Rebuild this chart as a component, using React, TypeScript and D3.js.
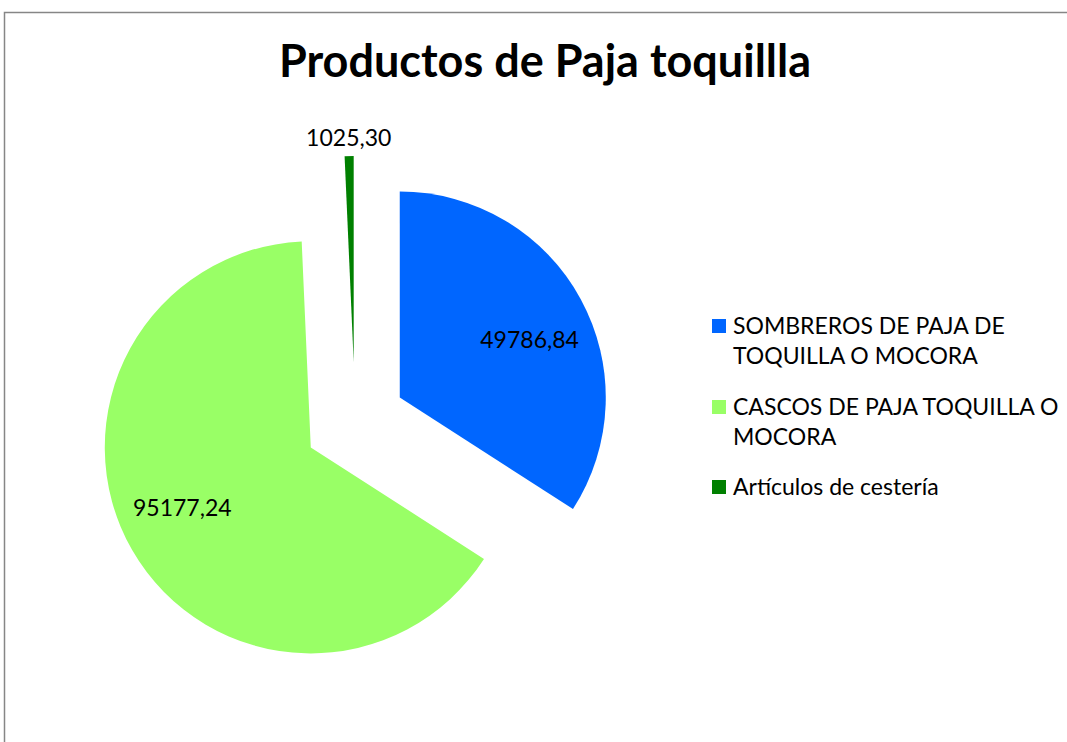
import React, { useMemo } from "react";
import * as d3 from "d3";

// datos del gráfico
const categories = [
  "SOMBREROS DE PAJA DE TOQUILLA O MOCORA",
  "CASCOS DE PAJA TOQUILLA O MOCORA",
  "Artículos de cestería",
];
const values = [49786.84, 95177.24, 1025.3];
const valueLabels = ["49786,84", "95177,24", "1025,30"];
const legendLines = [
  ["SOMBREROS DE PAJA DE", "TOQUILLA O MOCORA"],
  ["CASCOS DE PAJA TOQUILLA O", "MOCORA"],
  ["Artículos de cestería"],
];
const colors = ["#0066ff", "#99ff66", "#008000"];

const W = 1067;
const H = 742;
const cx = 355;
const cy = 422;
const R = 206;
const explode = [51, 51, 60];
const font = "Lato, 'Open Sans', sans-serif";

export default function App() {
  const slices = useMemo(() => {
    const pie = d3.pie<number>().sort(null).value((d) => d).startAngle(0).endAngle(2 * Math.PI);
    return pie(values);
  }, []);
  const arc = d3.arc<d3.PieArcDatum<number>>().innerRadius(0).outerRadius(R);

  return (
    <svg width={W} height={H} style={{ position: "absolute", left: 0, top: 0, background: "#fff" }}>
      <rect x={4.5} y={12.5} width={1200} height={900} fill="#fff" stroke="#868686" strokeWidth={1.5} />
      <text x={545} y={77} textAnchor="middle" fontFamily={font} fontWeight="bold" fontSize={45} fill="#000">
        Productos de Paja toquillla
      </text>
      {slices.map((s, i) => {
        const mid = (s.startAngle + s.endAngle) / 2;
        const ox = Math.sin(mid) * explode[i];
        const oy = -Math.cos(mid) * explode[i];
        const small = s.endAngle - s.startAngle < 0.2;
        // etiquetas: dentro del sector, o fuera si es muy delgado
        const la = small ? mid : mid + 0.08;
        const lr = small ? R + 18 : R * 0.69;
        const lx = ox + Math.sin(la) * lr;
        const ly = oy - Math.cos(la) * lr;
        return (
          <g key={categories[i]} transform={`translate(${cx},${cy})`}>
            <path d={arc(s) || ""} transform={`translate(${ox},${oy})`} fill={colors[i]} />
            <text x={lx} y={ly} dy="0.35em" textAnchor="middle" fontFamily={font} fontSize={23} fill="#000">
              {valueLabels[i]}
            </text>
          </g>
        );
      })}
      <g transform="translate(712,0)">
        {legendLines.map((lines, i) => {
          const y0 = [326, 407, 487][i];
          return (
            <g key={categories[i]}>
              <rect x={0} y={y0 - 7} width={14} height={14} fill={colors[i]} />
              {lines.map((ln, j) => (
                <text key={ln} x={21} y={y0 + j * 30} dy="0.35em" fontFamily={font} fontSize={23} fill="#000">
                  {ln}
                </text>
              ))}
            </g>
          );
        })}
      </g>
    </svg>
  );
}
